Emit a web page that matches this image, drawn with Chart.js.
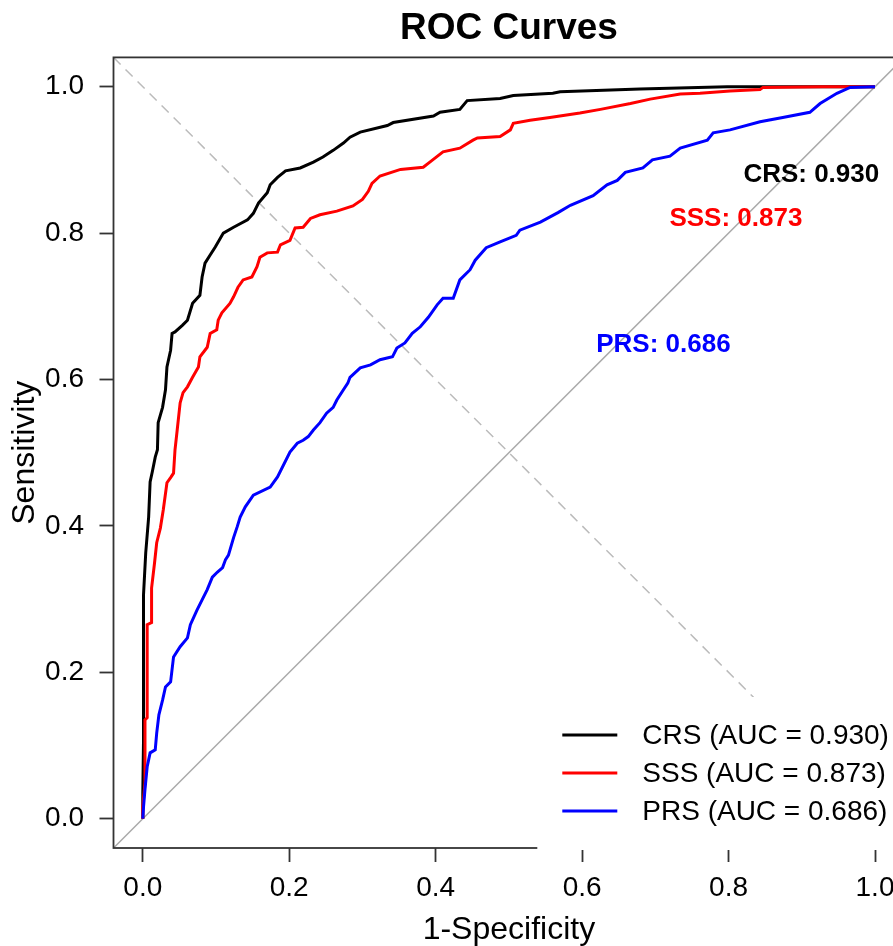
<!DOCTYPE html>
<html lang="en">
<head>
    <meta charset="UTF-8">
    <title>ROC Curves</title>
    <script src="https://cdn.jsdelivr.net/npm/chart.js"></script>
    <style>
        body {
            margin: 0;
            padding: 0;
            background-color: #fff;
            overflow: hidden;
        }

        #wrap {
            width: 920px;
            height: 946px;
        }
    </style>
</head>
<body>

    <div id="wrap">
        <canvas id="rocChart" width="920" height="946"></canvas>
    </div>

    <script>
        // values: 1-specificity (x) and sensitivity (y)
        const crsX = [0, 0, 0.001, 0.001, 0.004, 0.008, 0.010, 0.013, 0.017, 0.020, 0.021, 0.027, 0.031, 0.033, 0.038, 0.040, 0.044, 0.054, 0.061, 0.068, 0.078, 0.081, 0.085, 0.092, 0.099, 0.110, 0.124, 0.143, 0.151, 0.158, 0.170, 0.174, 0.184, 0.195, 0.215, 0.233, 0.246, 0.260, 0.274, 0.283, 0.297, 0.334, 0.342, 0.397, 0.406, 0.433, 0.443, 0.488, 0.506, 0.560, 0.570, 0.679, 0.798, 1];
        const crsY = [0, 0.035, 0.108, 0.306, 0.363, 0.412, 0.460, 0.474, 0.494, 0.504, 0.541, 0.562, 0.586, 0.617, 0.640, 0.663, 0.665, 0.674, 0.681, 0.704, 0.715, 0.740, 0.759, 0.770, 0.781, 0.800, 0.808, 0.818, 0.827, 0.841, 0.855, 0.866, 0.876, 0.885, 0.889, 0.897, 0.904, 0.913, 0.923, 0.931, 0.938, 0.947, 0.951, 0.960, 0.965, 0.969, 0.981, 0.984, 0.988, 0.991, 0.993, 0.997, 1, 1];

        const sssX = [0, 0, 0.003, 0.003, 0.006, 0.006, 0.012, 0.012, 0.016, 0.019, 0.024, 0.028, 0.033, 0.038, 0.042, 0.044, 0.047, 0.051, 0.055, 0.061, 0.068, 0.076, 0.078, 0.088, 0.092, 0.101, 0.103, 0.108, 0.119, 0.124, 0.130, 0.137, 0.149, 0.156, 0.160, 0.170, 0.184, 0.188, 0.201, 0.208, 0.219, 0.229, 0.242, 0.265, 0.287, 0.300, 0.308, 0.313, 0.324, 0.352, 0.383, 0.392, 0.410, 0.433, 0.451, 0.457, 0.488, 0.502, 0.506, 0.529, 0.556, 0.597, 0.625, 0.666, 0.693, 0.734, 0.761, 0.802, 0.843, 0.847, 0.929, 1];
        const sssY = [0, 0.016, 0.049, 0.135, 0.138, 0.265, 0.268, 0.315, 0.349, 0.377, 0.397, 0.422, 0.459, 0.466, 0.472, 0.504, 0.531, 0.568, 0.582, 0.590, 0.603, 0.617, 0.631, 0.644, 0.663, 0.668, 0.681, 0.691, 0.704, 0.713, 0.726, 0.736, 0.740, 0.754, 0.767, 0.773, 0.774, 0.784, 0.790, 0.807, 0.808, 0.820, 0.825, 0.830, 0.837, 0.846, 0.857, 0.868, 0.878, 0.887, 0.890, 0.897, 0.911, 0.916, 0.927, 0.930, 0.932, 0.941, 0.950, 0.954, 0.958, 0.964, 0.969, 0.977, 0.983, 0.990, 0.991, 0.994, 0.996, 0.999, 1, 1];

        const prsX = [0, 0.001, 0.003, 0.006, 0.010, 0.017, 0.019, 0.022, 0.027, 0.031, 0.038, 0.042, 0.051, 0.061, 0.065, 0.074, 0.081, 0.088, 0.095, 0.102, 0.109, 0.113, 0.117, 0.124, 0.129, 0.133, 0.140, 0.151, 0.174, 0.184, 0.201, 0.211, 0.219, 0.226, 0.233, 0.242, 0.251, 0.260, 0.265, 0.274, 0.280, 0.283, 0.297, 0.311, 0.324, 0.341, 0.347, 0.358, 0.368, 0.379, 0.390, 0.402, 0.410, 0.424, 0.433, 0.447, 0.454, 0.469, 0.488, 0.510, 0.515, 0.543, 0.567, 0.584, 0.615, 0.634, 0.648, 0.659, 0.683, 0.696, 0.720, 0.734, 0.771, 0.779, 0.802, 0.843, 0.874, 0.911, 0.925, 0.948, 0.966, 1];
        const prsY = [0, 0.016, 0.040, 0.071, 0.090, 0.094, 0.117, 0.142, 0.162, 0.180, 0.187, 0.221, 0.235, 0.247, 0.265, 0.285, 0.299, 0.313, 0.330, 0.337, 0.343, 0.354, 0.360, 0.384, 0.399, 0.412, 0.426, 0.442, 0.453, 0.467, 0.501, 0.513, 0.517, 0.522, 0.531, 0.541, 0.554, 0.562, 0.572, 0.586, 0.595, 0.603, 0.616, 0.620, 0.627, 0.631, 0.643, 0.650, 0.663, 0.672, 0.685, 0.702, 0.711, 0.711, 0.736, 0.750, 0.763, 0.780, 0.788, 0.797, 0.804, 0.815, 0.828, 0.838, 0.851, 0.866, 0.872, 0.883, 0.889, 0.900, 0.905, 0.916, 0.927, 0.937, 0.941, 0.952, 0.958, 0.965, 0.977, 0.991, 0.999, 1];

        const modelNames = ['CRS', 'SSS', 'PRS'];
        const aucValues = [0.930, 0.873, 0.686];
        const modelColors = ['#000000', '#ff0000', '#0000ff'];

        const xTicks = [0, 0.2, 0.4, 0.6, 0.8, 1.0];
        const yTicks = [0, 0.2, 0.4, 0.6, 0.8, 1.0];

        // where the "NAME: auc" labels sit, in data units
        const aucLabelPos = [[0.913, 0.879], [0.810, 0.819], [0.711, 0.648]];

        const FONT = "'Liberation Sans', Arial, Helvetica, sans-serif";
        Chart.defaults.font.family = FONT;
        Chart.defaults.color = '#000';

        function toPoints(xs, ys) {
            return xs.map((x, i) => ({ x: x, y: ys[i] }));
        }

        const curves = [toPoints(crsX, crsY), toPoints(sssX, sssY), toPoints(prsX, prsY)];

        // box, auc labels and the legend are drawn by hand
        const decorPlugin = {
            id: 'decor',
            afterDatasetsDraw(chart) {
                const ctx = chart.ctx;
                const ca = chart.chartArea;
                const xs = chart.scales.x;
                const ys = chart.scales.y;

                ctx.save();
                ctx.strokeStyle = '#333';
                ctx.lineWidth = 1.8;
                ctx.strokeRect(ca.left, ca.top, ca.right - ca.left, ca.bottom - ca.top);

                ctx.font = 'bold 26px ' + FONT;
                ctx.textAlign = 'center';
                ctx.textBaseline = 'middle';
                modelNames.forEach((name, i) => {
                    ctx.fillStyle = modelColors[i];
                    ctx.fillText(name + ': ' + aucValues[i].toFixed(3),
                        xs.getPixelForValue(aucLabelPos[i][0]),
                        ys.getPixelForValue(aucLabelPos[i][1]));
                });

                // legend, white background over the bottom right corner
                ctx.fillStyle = '#fff';
                ctx.fillRect(ca.right - 367, ca.bottom - 151, 400, 153);
                ctx.font = '28px ' + FONT;
                ctx.textAlign = 'left';
                modelNames.forEach((name, i) => {
                    const y = ca.bottom - 113 + i * 38;
                    ctx.strokeStyle = modelColors[i];
                    ctx.lineWidth = 3;
                    ctx.beginPath();
                    ctx.moveTo(ca.right - 342, y);
                    ctx.lineTo(ca.right - 287, y);
                    ctx.stroke();
                    ctx.fillStyle = '#000';
                    ctx.fillText(name + ' (AUC = ' + aucValues[i].toFixed(3) + ')', ca.right - 262, y + 1);
                });
                ctx.restore();
            }
        };

        new Chart(document.getElementById('rocChart'), {
            type: 'scatter',
            data: {
                datasets: [
                    ...curves.map((pts, i) => ({
                        label: modelNames[i],
                        data: pts,
                        showLine: true,
                        borderColor: modelColors[i],
                        borderWidth: 3,
                        pointRadius: 0,
                        tension: 0,
                        order: 2 - i
                    })),
                    {
                        label: 'chance',
                        data: [{ x: -0.04, y: -0.04 }, { x: 1.04, y: 1.04 }],
                        showLine: true,
                        borderColor: '#aaaaaa',
                        borderWidth: 1.5,
                        pointRadius: 0,
                        order: 3
                    },
                    {
                        label: 'anti',
                        data: [{ x: -0.04, y: 1.04 }, { x: 1.04, y: -0.04 }],
                        showLine: true,
                        borderColor: '#bbbbbb',
                        borderWidth: 1.5,
                        borderDash: [10, 7],
                        pointRadius: 0,
                        order: 3
                    }
                ]
            },
            options: {
                responsive: false,
                animation: false,
                layout: {
                    padding: { left: 0, right: 15.7, top: 0, bottom: 0 }
                },
                plugins: {
                    legend: { display: false },
                    tooltip: { enabled: false },
                    title: {
                        display: true,
                        text: 'ROC Curves',
                        fullSize: false,
                        color: '#000',
                        font: { size: 37, weight: 'bold', lineHeight: 1.2 },
                        padding: { top: 7, bottom: 6 }
                    }
                },
                scales: {
                    x: {
                        type: 'linear',
                        min: -0.04,
                        max: 1.04,
                        afterFit: function (scale) { scale.height = 98; },
                        afterBuildTicks: function (scale) { scale.ticks = xTicks.map(v => ({ value: v })); },
                        ticks: {
                            padding: 9.5,
                            color: '#000',
                            font: { size: 28 },
                            callback: v => v.toFixed(1)
                        },
                        grid: {
                            display: true,
                            drawOnChartArea: false,
                            drawTicks: true,
                            tickLength: 14,
                            tickColor: '#333',
                            tickWidth: 1.8
                        },
                        border: { display: false },
                        title: {
                            display: true,
                            text: '1-Specificity',
                            color: '#000',
                            font: { size: 32, lineHeight: 1 },
                            padding: { top: 0, bottom: 0 }
                        }
                    },
                    y: {
                        type: 'linear',
                        min: -0.04,
                        max: 1.04,
                        afterFit: function (scale) { scale.width = 113.5; },
                        afterBuildTicks: function (scale) { scale.ticks = yTicks.map(v => ({ value: v })); },
                        ticks: {
                            padding: 15.5,
                            color: '#000',
                            font: { size: 28 },
                            callback: v => v.toFixed(1)
                        },
                        grid: {
                            display: true,
                            drawOnChartArea: false,
                            drawTicks: true,
                            tickLength: 14,
                            tickColor: '#333',
                            tickWidth: 1.8
                        },
                        border: { display: false },
                        title: {
                            display: true,
                            text: 'Sensitivity',
                            color: '#000',
                            font: { size: 32, lineHeight: 1 },
                            padding: { top: 9.6, bottom: 0 }
                        }
                    }
                }
            },
            plugins: [decorPlugin]
        });
    </script>
</body>
</html>
